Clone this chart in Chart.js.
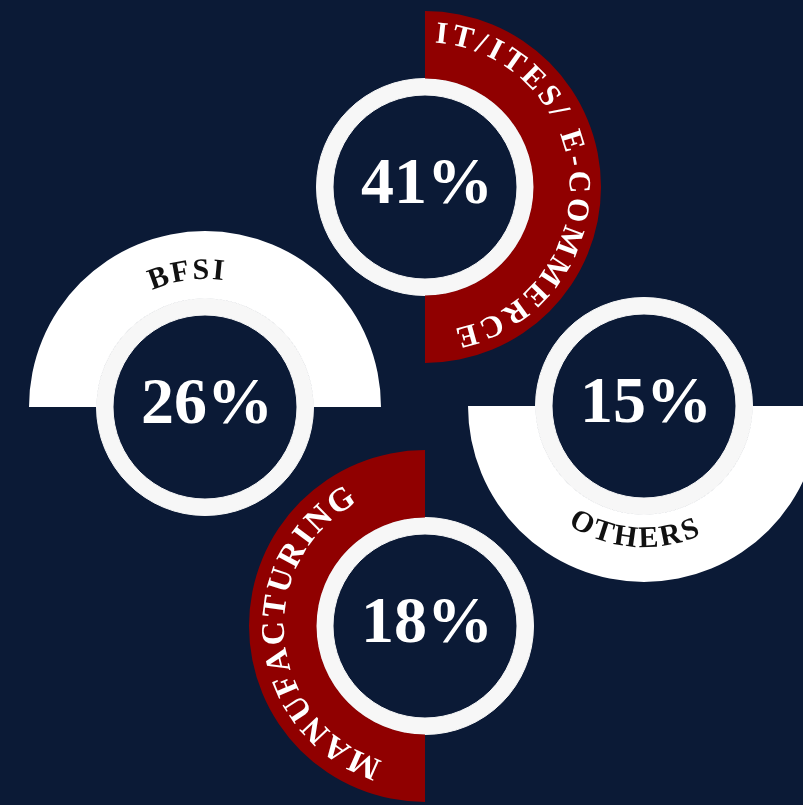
<!DOCTYPE html>
<html>
<head>
<meta charset="utf-8">
<script src="https://cdn.jsdelivr.net/npm/chart.js@4.4.0/dist/chart.umd.min.js"></script>
<style>
  html, body { margin: 0; padding: 0; background: #0b1a36; width: 803px; height: 805px; overflow: hidden; }
  .tile { position: absolute; }
</style>
</head>
<body>
<script>
// Sector shares (%)
const categories = ['IT/ITES/ E-COMMERCE', 'BFSI', 'OTHERS', 'MANUFACTURING'];
const shares = [41, 26, 15, 18];
const bandShare = [50, 50];   // each coloured band is a half ring
const ringShare = [100];

// look of each tile
const centers = [[425, 187], [205, 407], [644, 406], [425, 626]];
const rotations = [0, -90, 90, 180];
const bandColors = ['#900000', '#ffffff', '#ffffff', '#900000'];
const textColors = ['#ffffff', '#111111', '#111111', '#ffffff'];
const labelArcs = [   // [from deg, to deg, radius px, font px]
  [4, 168, 155, 31],
  [-24, 8, 138, 30],
  [213, 156, 131, 30],
  [198, 331, 152, 33]
];
const R = 176;

const ringLabels = {
  id: 'ringLabels',
  afterDatasetsDraw(chart, args, opts) {
    const arc = chart.getDatasetMeta(0).data[0];
    const x = arc.x, y = arc.y;
    const ctx = chart.ctx;
    ctx.save();
    // percentage in the middle
    ctx.fillStyle = '#ffffff';
    ctx.font = 'bold 66px "Liberation Serif"';
    ctx.textAlign = 'center';
    ctx.textBaseline = 'alphabetic';
    ctx.fillText(opts.value + '%', x + 2, y + 16);

    // curved label along the band
    const [from, to, r, size] = opts.arc;
    ctx.font = 'bold ' + size + 'px "Liberation Serif"';
    ctx.fillStyle = opts.color;
    const chars = [...opts.text];
    const widths = chars.map(c => ctx.measureText(c).width);
    const total = widths.reduce((a, b) => a + b, 0);
    const span = Math.abs(to - from) * Math.PI / 180;
    const gap = (r * span - total) / (chars.length - 1);
    const dir = to > from ? 1 : -1;
    const a0 = from * Math.PI / 180;
    let s = 0;
    chars.forEach((c, i) => {
      const mid = s + widths[i] / 2;
      s += widths[i] + gap;
      const t = a0 + dir * mid / r;
      ctx.save();
      ctx.translate(x + r * Math.sin(t), y - r * Math.cos(t));
      ctx.rotate(dir > 0 ? t : t - Math.PI);
      ctx.fillText(c, 0, size * 0.33);
      ctx.restore();
    });
    ctx.restore();
  }
};

categories.forEach((name, i) => {
  const div = document.createElement('div');
  div.className = 'tile';
  div.style.left = (centers[i][0] - R) + 'px';
  div.style.top = (centers[i][1] - R) + 'px';
  const canvas = document.createElement('canvas');
  canvas.width = 2 * R;
  canvas.height = 2 * R;
  div.appendChild(canvas);
  document.body.appendChild(div);

  new Chart(canvas, {
    type: 'doughnut',
    data: {
      labels: [name, ''],
      datasets: [
        {
          data: bandShare,
          backgroundColor: [bandColors[i], 'rgba(0,0,0,0)'],
          borderWidth: 0,
          weight: 67.5
        },
        {
          data: ringShare,
          backgroundColor: '#f7f7f7',
          borderColor: '#f7f7f7',
          borderWidth: 1,
          weight: 16.5
        }
      ]
    },
    options: {
      responsive: false,
      animation: false,
      events: [],
      rotation: rotations[i],
      cutout: (92 / R * 100) + '%',
      hoverOffset: 0,
      offset: 0,
      layout: { padding: 0 },
      plugins: {
        legend: { display: false },
        tooltip: { enabled: false },
        ringLabels: {
          value: shares[i],
          text: name,
          color: textColors[i],
          arc: labelArcs[i]
        }
      }
    },
    plugins: [ringLabels]
  });
});
</script>
</body>
</html>
